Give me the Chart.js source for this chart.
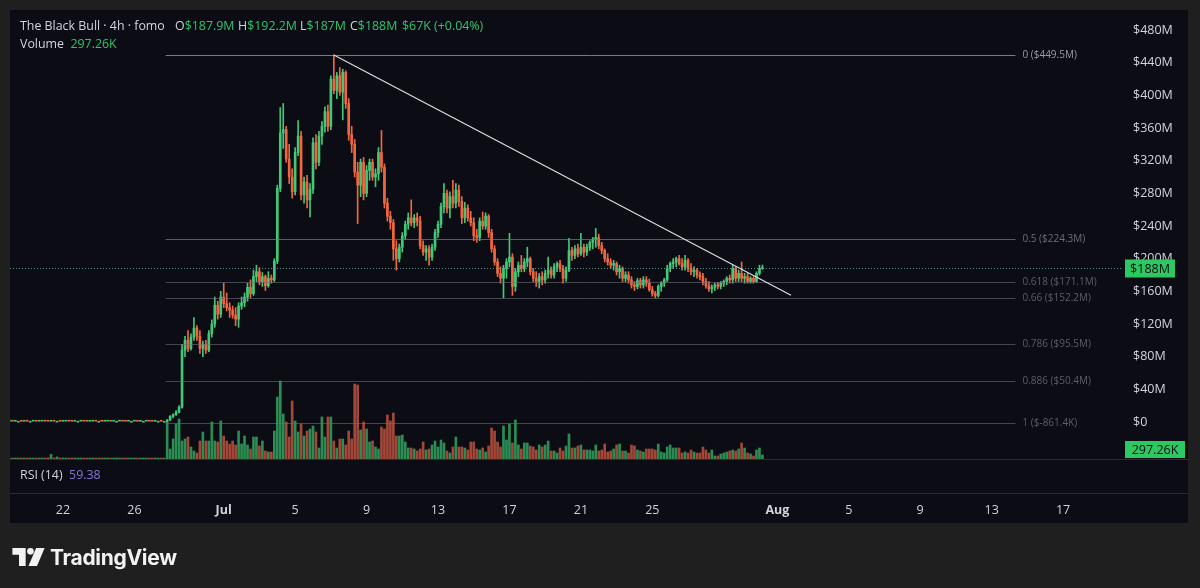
<!DOCTYPE html>
<html><head><meta charset="utf-8"><title>The Black Bull · 4h · fomo</title>
<script src="https://cdn.jsdelivr.net/npm/chart.js@4.4.1/dist/chart.umd.min.js"></script>
<style>
html,body{margin:0;padding:0;background:#1f1f1f;}
#wrap{position:relative;width:1200px;height:588px;overflow:hidden;background:#1f1f1f;}
#c{position:absolute;left:0;top:0;}
.t{position:absolute;font-family:"Open Sans","Noto Sans",sans-serif;font-size:12.4px;line-height:16px;color:#d1d4dc;white-space:nowrap;}
.g{color:#31c46e;}
.rsi{color:#8776d8;}
#logo{position:absolute;left:12px;top:542px;height:30px;display:flex;align-items:center;}
#logo span{font-family:Inter,"Open Sans",sans-serif;font-weight:700;font-size:21px;color:#f2f2f2;letter-spacing:-0.3px;margin-left:5px;}
</style></head>
<body><div id="wrap">
<canvas id="c" width="1200" height="588"></canvas>
<div class="t" style="left:20px;top:18px">The Black Bull · 4h · fomo</div>
<div class="t" style="left:175px;top:18px">O<span class="g">$187.9M</span></div>
<div class="t" style="left:238px;top:18px">H<span class="g">$192.2M</span></div>
<div class="t" style="left:300px;top:18px">L<span class="g">$187M</span></div>
<div class="t" style="left:350px;top:18px">C<span class="g">$188M</span></div>
<div class="t g" style="left:402px;top:18px">$67K (+0.04%)</div>
<div class="t" style="left:20px;top:36px">Volume&nbsp; <span class="g">297.26K</span></div>
<div class="t" style="left:20px;top:467px">RSI (14)&nbsp; <span class="rsi">59.38</span></div>
<div id="logo"><svg width="33" height="18" viewBox="0 0 34 19"><path d="M0 0H14V19H7V7H0Z" fill="#f2f2f2"/><circle cx="19" cy="3.5" r="3.5" fill="#f2f2f2"/><path d="M25 0H34L26 19H17Z" fill="#f2f2f2"/></svg><span>TradingView</span></div>
</div>
<script>
// ---------- data (prices in $M, volume in K) ----------
const PRE_OPEN = [1.0,1.1,0.9,1.0,1.0,0.9,1.1,1.0,1.0,1.1,0.9,1.0,1.1,1.0,0.9,1.1,1.0,1.0,0.9,1.0,1.1,1.0,0.9,1.0,1.0,1.1,1.0,0.9,1.0,1.1,1.0,1.0,0.9,1.0,1.1,0.9,1.0,1.0,1.1,1.0,0.9,1.0,1.0,1.1,0.9,1.0,1.0,1.1,1.0,0.9,1.0,1.0,0.9];
const PRE_CLOSE = [1.1,0.9,1.0,1.0,0.9,1.1,1.0,1.0,1.1,0.9,1.0,1.1,1.0,0.9,1.1,1.0,1.0,0.9,1.0,1.1,1.0,0.9,1.0,1.0,1.1,1.0,0.9,1.0,1.1,1.0,1.0,0.9,1.0,1.1,0.9,1.0,1.0,1.1,1.0,0.9,1.0,1.0,1.1,0.9,1.0,1.0,1.1,1.0,0.9,1.0,1.0,0.9,0.9];
const PRE_VOLUME = [60,45,70,50,80,55,40,65,75,50,60,45,70,90,340,60,150,55,70,45,60,80,50,65,40,70,55,60,45,75,60,50,70,45,65,55,80,50,60,45,70,55,65,50,60,75,45,55,70,60,50,65,45];

const OPEN = [
0.9,2.5,7,9,12,18,88,100,90,104,
115,105,90,95,88,108,120,143,132,153,
145,140,137,131,126,142,146,153,165,157,
178,184,172,178,167,176,174,197,286,354,
358,322,300,282,330,350,278,294,272,285,
342,318,350,362,380,362,420,406,424,404,
428,390,352,340,306,290,318,280,308,318,
300,304,330,312,268,252,244,212,200,214,
228,242,250,244,250,246,216,208,212,202,
214,232,242,264,280,262,276,268,284,270,
250,262,250,244,228,226,246,240,252,232,
212,196,182,176,188,196,202,166,184,192,
188,196,200,184,176,172,178,174,182,186,
180,190,194,188,176,186,210,204,212,206,
214,208,214,220,224,226,216,210,200,196,
192,194,184,188,176,180,174,168,166,173,
168,174,170,162,157,155,166,170,174,188,
194,196,200,194,190,198,188,184,186,180,
178,172,167,163,165,168,166,170,172,176,
174,188,176,182,176,178,172,176,172,182,
187.9];
const HIGH = [
3,8,10,14,20,95,105,112,108,128,
118,112,99,100,112,125,153,148,160,170,
158,146,142,140,146,153,158,170,174,186,
192,189,183,180,184,180,200,290,385,390,
362,340,310,336,369,356,300,302,292,348,
352,356,368,386,388,424,449.5,428,434,432,
430,396,362,346,318,322,324,314,322,322,
310,336,357,316,274,258,248,222,218,232,
246,256,272,254,256,252,222,216,216,218,
236,246,268,292,284,282,296,292,290,276,
269,266,258,250,236,250,257,256,254,236,
216,200,190,192,200,231,206,188,196,204,
200,214,202,188,184,182,184,186,202,190,
194,196,198,192,190,225,214,216,218,231,
218,218,222,226,237,230,220,212,206,200,
198,196,192,190,184,184,178,172,176,176,
178,178,175,166,160,168,172,176,192,196,
200,202,204,200,204,200,194,190,188,184,
182,176,172,168,170,171,172,174,178,180,
192,190,186,196,182,182,178,178,184,192,
192.2];
const LOW = [
0.5,2,5,8,11,17,80,86,88,100,
100,84,80,84,86,104,116,126,128,140,
136,128,127,118,116,138,141,148,152,155,
172,168,166,161,165,170,172,194,282,335,
318,292,274,278,326,272,268,262,251,280,
310,314,340,355,356,358,402,396,400,370,
384,345,330,300,243,276,272,276,296,296,
288,296,306,262,246,236,198,186,196,208,
224,236,240,238,240,212,204,198,192,198,
210,226,238,256,256,250,262,262,264,243,
244,246,240,222,220,222,236,236,226,208,
192,178,170,152,176,190,155,160,178,184,
184,190,180,172,166,164,168,170,176,176,
176,184,184,170,172,184,198,200,202,204,
202,204,210,212,214,212,206,196,192,188,
186,180,176,172,172,170,164,161,163,164,
164,166,160,154,152,153,160,166,172,184,
188,190,192,186,186,184,180,178,176,174,
168,164,160,158,161,163,163,166,168,170,
170,172,172,172,170,170,170,170,171,180,
187];
const CLOSE = [
2.5,7,9,12,18,88,100,90,104,115,
105,90,95,88,108,120,143,132,153,145,
140,137,131,126,142,146,153,165,157,178,
184,172,178,167,176,174,197,286,354,358,
322,300,282,330,350,278,294,272,285,342,
318,350,362,380,362,420,406,424,404,428,
390,352,340,306,290,318,280,308,318,300,
304,330,312,268,252,244,212,200,214,228,
242,250,244,250,246,216,208,212,202,214,
232,242,264,280,262,276,268,284,270,250,
262,250,244,228,226,246,240,252,232,212,
196,182,176,188,196,202,166,184,192,188,
196,200,184,176,172,178,174,182,186,180,
190,194,188,176,186,210,204,212,206,214,
208,214,220,224,226,216,210,200,196,192,
194,184,188,176,180,174,168,166,173,168,
174,170,162,157,155,166,170,174,188,194,
196,200,194,190,198,188,184,186,180,178,
172,167,163,165,168,166,170,172,176,174,
188,176,182,176,178,172,176,172,182,187.9,
188];
const VOLUME = [
2738,740,1480,2590,2960,1332,1480,1628,888,592,
444,1332,1998,1332,1332,2738,1332,1258,2812,1702,
1332,1110,1332,1036,2072,1110,1702,1036,740,1628,
1628,962,1332,592,518,518,2072,4588,5772,3330,
2738,1628,4292,2812,1998,2590,1702,2072,2220,2442,
1998,814,3108,1628,3108,3108,1332,814,1480,1480,
1036,2072,1480,5550,5476,2146,2738,2220,1258,1332,
888,740,2368,2220,3256,2812,3404,1702,1702,1776,
1258,814,814,740,592,740,1258,666,740,1036,
1332,888,1406,1184,592,444,888,1628,888,888,
814,666,1258,1258,740,666,814,518,962,2294,
2072,1258,888,2442,1406,2590,1184,2886,1036,740,
1184,1184,962,888,666,1036,888,1036,1332,592,
592,444,814,592,962,1850,814,814,962,1036,
666,666,666,592,1036,592,666,1110,518,592,
740,1036,1110,592,592,444,1036,962,666,592,
518,740,740,740,666,1110,518,444,888,1036,
814,814,814,444,518,444,666,518,444,444,
888,666,444,666,222,222,370,444,518,592,
666,592,740,1184,814,444,370,222,666,814,
297.26];

// time axis: 4h slots counted from Jun 19 00:00
const TICK_SLOTS  = [18,42,72,96,120,144,168,192,216,258,282,306,330,354];
const TICK_LABELS = ['22','26','Jul','5','9','13','17','21','25','Aug','5','9','13','17'];
const PRICE_TICKS = [0,40,80,120,160,200,240,280,320,360,400,440,480];

const FIB_RATIOS = [0,0.5,0.618,0.66,0.786,0.886,1];
const FIB_PRICES = [449.5,224.3,171.1,152.2,95.5,50.4,-0.8614];
const TREND_SLOTS  = [109,262.6];
const TREND_PRICES = [449.5,155.3];

// ---------- layout / style constants ----------
const START_SLOT = 53;
const FIB_END_SLOT = 338;
const X_MIN = 0.2, X_MAX = 373.8;
const Y_MIN = -45.3, Y_MAX = 504.5;
const VOL_MAX = 33226;
const UP = '#43c878', DOWN = '#f0673f';
const VUP = 'rgba(50,165,95,0.85)', VDOWN = 'rgba(190,84,62,0.85)';

Chart.defaults.font.family = '"Open Sans","Noto Sans",sans-serif';

const bodies = [], bodyCol = [], wicks = [], wickCol = [], vols = [], volCol = [];
PRE_OPEN.forEach((o,i)=>{
  const up = PRE_CLOSE[i] >= o;
  bodies.push({x:i, y:[o, PRE_CLOSE[i]]}); bodyCol.push(up?UP:DOWN);
  vols.push({x:i, y:PRE_VOLUME[i]}); volCol.push(up?VUP:VDOWN);
});
OPEN.forEach((o,i)=>{
  const s = START_SLOT + i, up = CLOSE[i] >= o;
  bodies.push({x:s, y:[o, CLOSE[i]]}); bodyCol.push(up?UP:DOWN);
  wicks.push({x:s, y:[LOW[i], HIGH[i]]}); wickCol.push(up?UP:DOWN);
  vols.push({x:s, y:VOLUME[i]}); volCol.push(up?VUP:VDOWN);
});

function fmtFib(p){ return Math.abs(p) < 1 ? '$' + (p*1000).toFixed(1) + 'K' : '$' + p.toFixed(1) + 'M'; }

const decor = {
  id:'decor',
  beforeDraw(chart){
    const ctx = chart.ctx, a = chart.chartArea;
    ctx.save();
    ctx.fillStyle = '#1f1f1f'; ctx.fillRect(0,0,1200,588);
    ctx.fillStyle = '#0c0c14'; ctx.fillRect(10,10,1178,513);
    ctx.strokeStyle = '#2b2b36'; ctx.lineWidth = 1;
    ctx.beginPath();
    ctx.moveTo(10, Math.round(a.bottom)+0.5); ctx.lineTo(1188, Math.round(a.bottom)+0.5);
    ctx.moveTo(10, 493.5); ctx.lineTo(1188, 493.5);
    ctx.stroke();
    ctx.restore();
  },
  afterDatasetsDraw(chart){
    const ctx = chart.ctx, a = chart.chartArea, x = chart.scales.x, y = chart.scales.y;
    ctx.save();
    // fib retracement
    const fx0 = x.getPixelForValue(START_SLOT - 0.5), fx1 = x.getPixelForValue(FIB_END_SLOT);
    ctx.font = '10px "Open Sans","Noto Sans",sans-serif';
    ctx.textBaseline = 'middle'; ctx.textAlign = 'left';
    FIB_RATIOS.forEach((r,k)=>{
      const py = Math.round(y.getPixelForValue(FIB_PRICES[k])) + 0.5;
      ctx.strokeStyle = k===0 ? 'rgba(150,150,162,0.8)' : (k===1 ? 'rgba(125,125,138,0.7)' : 'rgba(110,110,122,0.6)');
      ctx.lineWidth = 1;
      ctx.beginPath(); ctx.moveTo(fx0, py); ctx.lineTo(fx1, py); ctx.stroke();
      ctx.fillStyle = k===0 ? '#9a9ba4' : (k===1 ? '#6c6d78' : '#5c5d68');
      ctx.fillText(String(r) + ' (' + fmtFib(FIB_PRICES[k]) + ')', fx1 + 7, py);
    });
    // trend line
    ctx.strokeStyle = '#dcdde2'; ctx.lineWidth = 1.2;
    ctx.beginPath();
    ctx.moveTo(x.getPixelForValue(TREND_SLOTS[0]), y.getPixelForValue(TREND_PRICES[0]));
    ctx.lineTo(x.getPixelForValue(TREND_SLOTS[1]), y.getPixelForValue(TREND_PRICES[1]));
    ctx.stroke();
    // last price line
    const last = CLOSE[CLOSE.length-1];
    const ly = Math.round(y.getPixelForValue(last)) + 0.5;
    ctx.strokeStyle = 'rgba(95,180,165,0.8)'; ctx.lineWidth = 1; ctx.setLineDash([1,2]);
    ctx.beginPath(); ctx.moveTo(a.left, ly); ctx.lineTo(a.right, ly); ctx.stroke();
    ctx.setLineDash([]);
    // price label box
    ctx.fillStyle = '#2ec862';
    ctx.fillRect(a.right + 3, ly - 9, 50, 18);
    ctx.fillStyle = '#0b0b10'; ctx.font = '12.5px "Open Sans","Noto Sans",sans-serif';
    ctx.textAlign = 'center';
    ctx.fillText('$' + last + 'M', a.right + 28, ly + 0.5);
    // volume label box
    const lv = VOLUME[VOLUME.length-1];
    ctx.fillStyle = '#2ec862';
    ctx.fillRect(a.right + 3, a.bottom - 18, 60, 17);
    ctx.fillStyle = '#0b0b10';
    ctx.fillText(lv + 'K', a.right + 33, a.bottom - 9);
    ctx.restore();
  }
};

new Chart(document.getElementById('c'), {
  type:'bar',
  data:{ datasets:[
    { label:'bodies', data:bodies, backgroundColor:bodyCol, barThickness:2, minBarLength:1, grouped:false, borderWidth:0, order:1, yAxisID:'y' },
    { label:'wicks', data:wicks, backgroundColor:wickCol, barThickness:1, grouped:false, borderWidth:0, order:2, yAxisID:'y' },
    { label:'volume', data:vols, backgroundColor:volCol, barThickness:2, minBarLength:1, grouped:false, borderWidth:0, order:3, yAxisID:'yv' }
  ]},
  options:{
    responsive:false, animation:false, devicePixelRatio:1, events:[],
    layout:{ padding:{ left:10, top:10, right:12, bottom:65 } },
    plugins:{ legend:{display:false}, tooltip:{enabled:false} },
    scales:{
      x:{
        type:'linear', min:X_MIN, max:X_MAX, offset:false, bounds:'data',
        grid:{display:false, drawTicks:false}, border:{display:false},
        afterBuildTicks(s){ s.ticks = TICK_SLOTS.map(v=>({value:v})); },
        afterFit(s){ s.height = 64; s.paddingLeft = 0; s.paddingRight = 0; },
        ticks:{
          autoSkip:false, maxRotation:0, padding:44, color:'#d1d4dc',
          font:(c)=>({ size:12.5, weight: (c.tick && /[A-Za-z]/.test(TICK_LABELS[TICK_SLOTS.indexOf(c.tick.value)]||'')) ? 'bold' : 'normal' }),
          callback:(v)=>TICK_LABELS[TICK_SLOTS.indexOf(v)]
        }
      },
      y:{
        type:'linear', position:'right', min:Y_MIN, max:Y_MAX, bounds:'data',
        grid:{display:false, drawTicks:false}, border:{display:false},
        afterBuildTicks(s){ s.ticks = PRICE_TICKS.map(v=>({value:v})); },
        afterFit(s){ s.width = 66; s.paddingTop = 0; s.paddingBottom = 0; },
        ticks:{ autoSkip:false, padding:11, color:'#d1d4dc', font:{size:12.5},
          callback:(v)=> v===0 ? '$0' : '$' + v + 'M' }
      },
      yv:{ type:'linear', display:false, min:0, max:VOL_MAX, bounds:'data' }
    }
  },
  plugins:[decor]
});
</script>
</body></html>
